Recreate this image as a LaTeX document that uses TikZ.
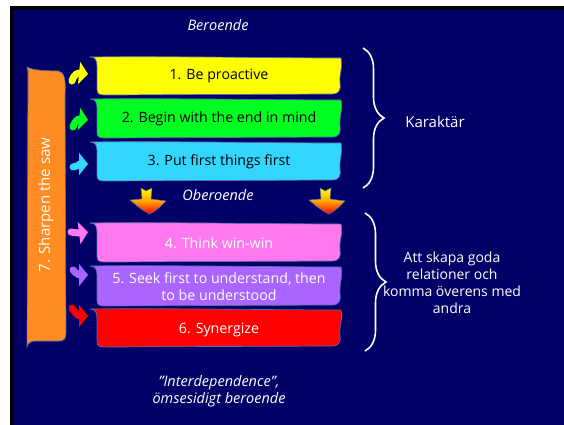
\documentclass[tikz,border=0pt]{standalone}
\usepackage{fontspec}
\setmainfont{Open Sans}
\usetikzlibrary{arrows.meta,decorations.pathreplacing}

\definecolor{navy}{RGB}{0,0,102}
\definecolor{rimblue}{RGB}{90,110,170}
\definecolor{proactive}{RGB}{255,255,0}
\definecolor{beginend}{RGB}{0,255,32}
\definecolor{firstthings}{RGB}{51,214,255}
\definecolor{winwin}{RGB}{255,120,240}
\definecolor{understand}{RGB}{170,100,255}
\definecolor{synergize}{RGB}{255,0,0}
\definecolor{saw}{RGB}{255,140,34}

\newcommand{\ribbon}[3]{%
  \draw[rim, fill=#3] (90,#1) .. controls (95,#1) and (97,#1+3) .. (97,#1+9)
    -- (97,#2-6) .. controls (97,#2-1) and (99,#2) .. (105,#2)
    -- (332,#2-1) .. controls (339,#2-1) and (341,#2-5) .. (340,#2-12)
    .. controls (339,#2-22) and (343,#1+12) .. (341,#1+1)
    .. controls (280,#1+1) and (160,#1-1) .. cycle;}

\begin{document}
\begin{tikzpicture}[x=1pt, y=-1pt,
  rim/.style={draw=rimblue, line width=0.7pt},
  habit/.style={font=\fontsize{14.2}{17}\selectfont, align=center, inner sep=0pt},
  remark/.style={text=white, font=\fontsize{14.5}{17.5}\selectfont\itshape, align=center},
  side/.style={text=white, font=\fontsize{14}{17}\selectfont, align=center},
  hookarrow/.style={line width=7pt, line cap=round, -{Triangle[width=22pt, length=9pt]}},
  bracket/.style={white, line width=1.6pt, decorate, decoration={brace, amplitude=21pt}},
  fall/.style={top color=yellow, bottom color=red, middle color=orange!70!yellow, draw=rimblue, line width=0.5pt}]
	\fill[white] (0,0) rectangle (564,425);
	\fill[black] (10,6) rectangle (564,425);
	\fill[navy] (13,10) rectangle (564,425);

	\ribbon{57}{95}{proactive}
	\ribbon{99}{138}{beginend}
	\ribbon{142}{181}{firstthings}
	\ribbon{223}{262}{winwin}
	\ribbon{266}{306}{understand}
	\ribbon{309}{347}{synergize}
	\draw[rim, fill=saw] (27,67) .. controls (31,70) and (45,71) .. (58,71)
	  .. controls (64,72) and (66,78) .. (65,95) -- (66,333)
	  .. controls (66,339) and (64,341) .. (59,341) -- (35,341)
	  .. controls (31,341) and (28,343) .. (27,347) -- (28,76)
	  .. controls (28,71) and (28,69) .. cycle;

	\node[habit] (b1) at (219,76) {1. Be proactive};
	\node[habit] (b2) at (219,119) {2. Begin with the end in mind};
	\node[habit] (b3) at (219,162) {3. Put first things first};
	\node[habit, text=white] (b4) at (219,243) {4. Think win-win};
	\node[habit, text=white] (b5) at (219,287) {5. Seek first to understand, then\\to be understood};
	\node[habit, text=white] (b6) at (219,330) {6. Synergize};
	\node[habit, text=white, font=\fontsize{15}{18}\selectfont, rotate=90] (saw) at (46,205) {7. Sharpen the saw};

	\draw[hookarrow, proactive] (72,81) .. controls (74,74) and (78,73) .. (88,74);
	\draw[hookarrow, beginend] (73,127) .. controls (75,120) and (79,119) .. (88,120);
	\draw[hookarrow, firstthings] (73,167) .. controls (78,166) and (81,164) .. (88,164);
	\draw[hookarrow, winwin] (71,232) .. controls (76,233) and (80,233) .. (88,232);
	\draw[hookarrow, understand] (73,270) .. controls (76,274) and (80,275) .. (88,275);
	\draw[hookarrow, synergize] (72,308) .. controls (75,313) and (79,316) .. (88,316);

	\foreach \c in {148,327}
	  \shade[fall] (\c-7,188) -- (\c-2,191) -- (\c+4,188) -- (\c+3,199) -- (\c+18,201)
	    .. controls (\c+13,206) and (\c+8,211) .. (\c+2,214)
	    .. controls (\c-5,211) and (\c-12,205) .. (\c-18,200) -- (\c-6,199) -- cycle;

	\draw[bracket] (363,48) -- (363,188);
	\draw[bracket] (365,213) -- (365,351);

	\node[remark] (beroende) at (218,25) {Beroende};
	\node[remark] (oberoende) at (218,195) {Oberoende};
	\node[remark] (inter) at (219,391) {”Interdependence”,\\ömsesidigt beroende};
	\node[side, font=\fontsize{15}{17}\selectfont] (karaktar) at (435,122) {Karaktär};
	\node[side] (relationer) at (452,283) {Att skapa goda\\relationer och\\komma överens med\\andra};
\end{tikzpicture}
\end{document}
